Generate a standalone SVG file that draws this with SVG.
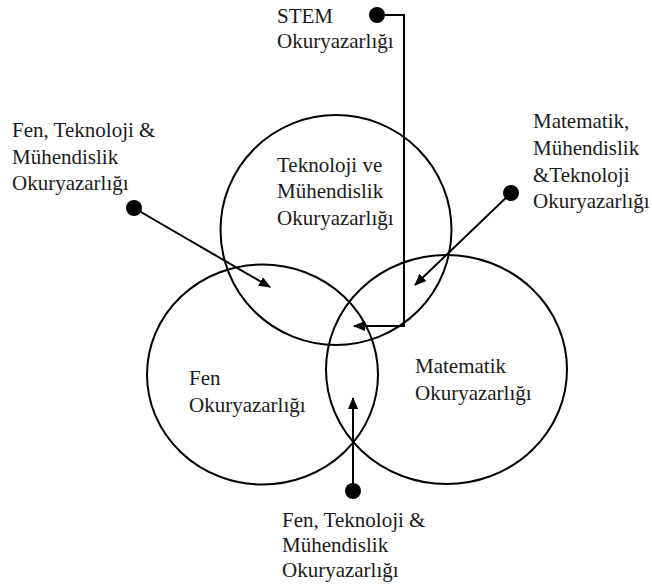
<svg xmlns="http://www.w3.org/2000/svg" width="652" height="584" viewBox="0 0 652 584">
<style>
.c{fill:none;stroke:#000;stroke-width:2}
.l{fill:none;stroke:#000;stroke-width:2}
.d{fill:#000}
text{font-size:21px;fill:#1a1a1a}
</style>
<defs>
<marker id="ah" viewBox="0 0 12 10" refX="11" refY="5" markerWidth="12" markerHeight="10" markerUnits="userSpaceOnUse" orient="auto">
<path d="M0,0 L12,5 L0,10 Z" fill="#000"/>
</marker>
</defs>
<rect width="652" height="584" fill="#fff"/>
<g font-family="Liberation Serif, DejaVu Serif, serif">
<g id="teknoloji">
<ellipse class="c" cx="336" cy="230" rx="115.5" ry="115"/>
<text x="277" y="172">Teknoloji ve</text>
<text x="277" y="198">Mühendislik</text>
<text x="277" y="225">Okuryazarlığı</text>
</g>
<g id="fen">
<ellipse class="c" cx="262.5" cy="374.5" rx="115.5" ry="110"/>
<text x="189" y="385">Fen</text>
<text x="189" y="412">Okuryazarlığı</text>
</g>
<g id="matematik">
<ellipse class="c" cx="446.5" cy="369.5" rx="120.5" ry="114.5"/>
<text x="415" y="373">Matematik</text>
<text x="415" y="400">Okuryazarlığı</text>
</g>
<g id="stem-label">
<text x="277" y="23">STEM</text>
<text x="277" y="48">Okuryazarlığı</text>
</g>
<g id="ftm-label-top">
<text x="12" y="137">Fen, Teknoloji &amp;</text>
<text x="12" y="164">Mühendislik</text>
<text x="12" y="190">Okuryazarlığı</text>
</g>
<g id="mmt-label">
<text x="533" y="128">Matematik,</text>
<text x="533" y="155">Mühendislik</text>
<text x="533" y="182">&amp;Teknoloji</text>
<text x="533" y="208">Okuryazarlığı</text>
</g>
<g id="ftm-label-bottom">
<text x="282" y="527">Fen, Teknoloji &amp;</text>
<text x="282" y="552">Mühendislik</text>
<text x="282" y="577">Okuryazarlığı</text>
</g>
</g>
<g id="connectors">
<circle class="d" cx="377" cy="15" r="8"/>
<polyline class="l" points="377,15 404,15 404,326 354,326" marker-end="url(#ah)"/>
<circle class="d" cx="134" cy="208" r="8"/>
<line class="l" x1="134" y1="208" x2="270" y2="287" marker-end="url(#ah)"/>
<circle class="d" cx="511" cy="193" r="8"/>
<line class="l" x1="511" y1="193" x2="415" y2="285" marker-end="url(#ah)"/>
<circle class="d" cx="353" cy="491" r="8"/>
<line class="l" x1="353" y1="491" x2="353" y2="398" marker-end="url(#ah)"/>
</g>
</svg>
